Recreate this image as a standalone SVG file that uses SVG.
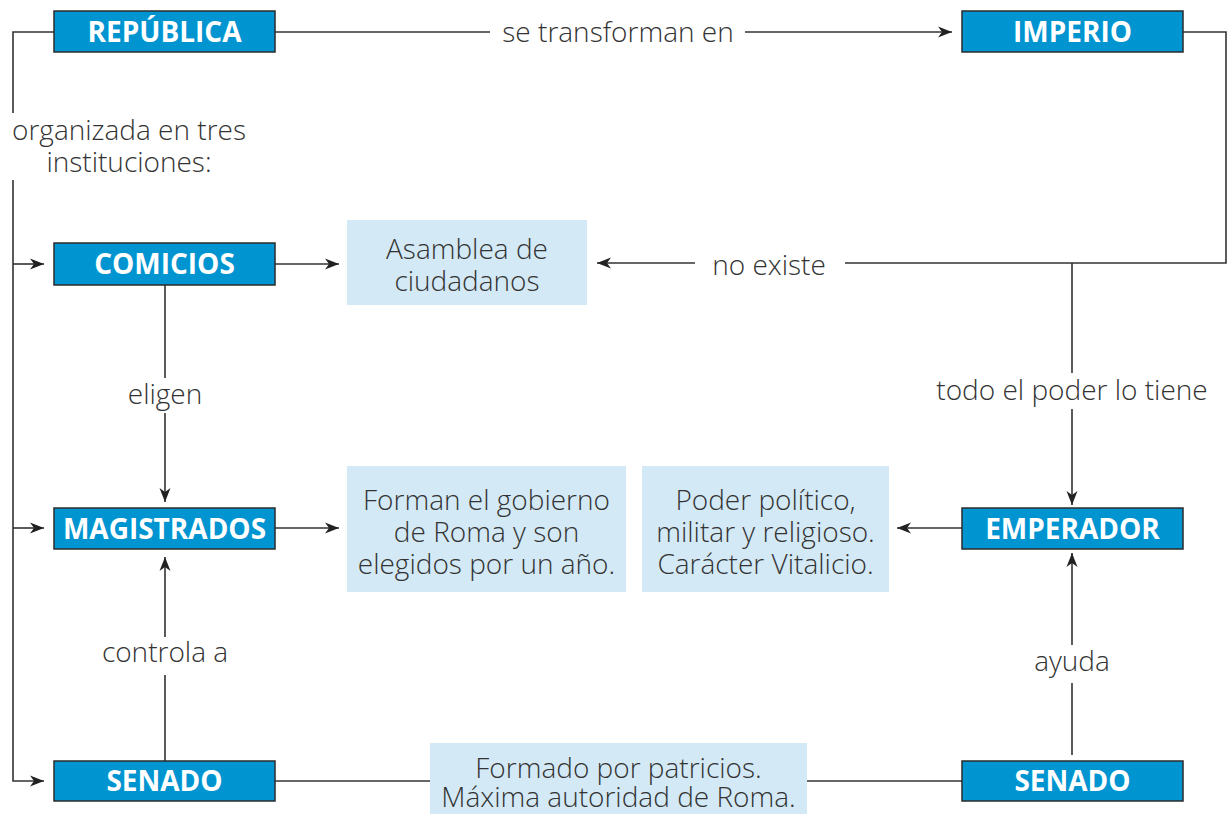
<svg xmlns="http://www.w3.org/2000/svg" width="1227" height="814" viewBox="0 0 1227 814">
<style>
.node rect.b{fill:#0095D1;stroke:#2b2b2b;stroke-width:1.5}
.node text.t{font-family:"Open Sans","Noto Sans",sans-serif;font-weight:700;font-size:28px;fill:#fff;text-anchor:middle}
.info rect{fill:#D3E9F6}
.lbl{font-family:"Open Sans","Noto Sans",sans-serif;font-weight:300;font-size:28px;fill:#333;text-anchor:middle}
#connectors path{fill:none;stroke:#333;stroke-width:1.6}
</style>
<defs>
<marker id="ah" markerWidth="16" markerHeight="12" refX="14" refY="6" orient="auto" markerUnits="userSpaceOnUse">
<path d="M0,0.5 L14,6 L0,11.5 L4,6 Z" fill="#222"/>
</marker>
</defs>
<rect width="1227" height="814" fill="#fff"/>

<g id="connectors">
<path d="M54,32 H13 V113"/>
<path d="M13,180 V781 H44" marker-end="url(#ah)"/>
<path d="M13,264 H44" marker-end="url(#ah)"/>
<path d="M13,528 H44" marker-end="url(#ah)"/>
<path d="M275,32 H490"/>
<path d="M745,32 H952" marker-end="url(#ah)"/>
<path d="M1183,32 H1226 V263 H845"/>
<path d="M695,263 H597" marker-end="url(#ah)"/>
<path d="M1072,263 V373"/>
<path d="M1072,409 V505" marker-end="url(#ah)"/>
<path d="M275,264 H339" marker-end="url(#ah)"/>
<path d="M165,285 V378"/>
<path d="M165,413 V502" marker-end="url(#ah)"/>
<path d="M275,528 H339" marker-end="url(#ah)"/>
<path d="M962,528 H897" marker-end="url(#ah)"/>
<path d="M165,761 V675"/>
<path d="M165,637 V557" marker-end="url(#ah)"/>
<path d="M1072,755 V683"/>
<path d="M1072,645 V553" marker-end="url(#ah)"/>
<path d="M275,781 H430"/>
<path d="M807,781 H962"/>
</g>

<g id="labels">
<text class="lbl" x="618" y="42">se transforman en</text>
<text class="lbl" x="129" y="140">organizada en tres</text>
<text class="lbl" x="129" y="172">instituciones:</text>
<text class="lbl" x="769" y="275">no existe</text>
<text class="lbl" x="1072" y="400">todo el poder lo tiene</text>
<text class="lbl" x="165" y="404">eligen</text>
<text class="lbl" x="165" y="662">controla a</text>
<text class="lbl" x="1072" y="671">ayuda</text>
</g>

<g id="republica" class="node"><rect class="b" x="54" y="11" width="221" height="41"/><text class="t" x="164.5" y="42">REPÚBLICA</text></g>
<g id="imperio" class="node"><rect class="b" x="962" y="11" width="221" height="41"/><text class="t" x="1072.5" y="42">IMPERIO</text></g>
<g id="comicios" class="node"><rect class="b" x="54" y="243" width="221" height="42"/><text class="t" x="164.5" y="274">COMICIOS</text></g>
<g id="magistrados" class="node"><rect class="b" x="54" y="508" width="221" height="41"/><text class="t" x="164.5" y="539">MAGISTRADOS</text></g>
<g id="emperador" class="node"><rect class="b" x="962" y="508" width="221" height="41"/><text class="t" x="1072.5" y="539">EMPERADOR</text></g>
<g id="senado1" class="node"><rect class="b" x="54" y="761" width="221" height="40"/><text class="t" x="164.5" y="791">SENADO</text></g>
<g id="senado2" class="node"><rect class="b" x="962" y="761" width="221" height="40"/><text class="t" x="1072.5" y="791">SENADO</text></g>

<g id="asamblea" class="node info"><rect x="347" y="220" width="240" height="85"/>
<text class="lbl" x="467" y="259">Asamblea de</text><text class="lbl" x="467" y="291">ciudadanos</text></g>
<g id="forman" class="node info"><rect x="347" y="466" width="279" height="126"/>
<text class="lbl" x="486.5" y="510">Forman el gobierno</text><text class="lbl" x="486.5" y="542">de Roma y son</text><text class="lbl" x="486.5" y="574">elegidos por un año.</text></g>
<g id="poder" class="node info"><rect x="642" y="466" width="247" height="126"/>
<text class="lbl" x="765.5" y="510">Poder político,</text><text class="lbl" x="765.5" y="542">militar y religioso.</text><text class="lbl" x="765.5" y="574">Carácter Vitalicio.</text></g>
<g id="formado" class="node info"><rect x="430" y="743" width="377" height="71"/>
<text class="lbl" x="618.5" y="778">Formado por patricios.</text><text class="lbl" x="618.5" y="807">Máxima autoridad de Roma.</text></g>
</svg>
